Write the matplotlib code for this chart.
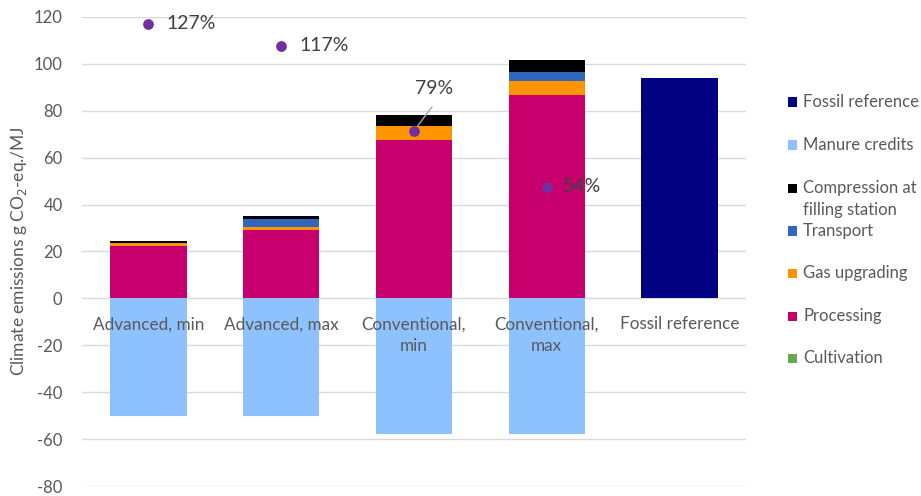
import matplotlib
matplotlib.use("Agg")
import matplotlib.pyplot as plt
from matplotlib.patches import Rectangle
import numpy as np

plt.rcParams['font.family'] = ['Lato', 'DejaVu Sans']
plt.rcParams['axes.unicode_minus'] = False

# Data (g CO2-eq./MJ)
categories = ["Advanced, min", "Advanced, max", "Conventional,\nmin", "Conventional,\nmax", "Fossil reference"]
cultivation = [0.0, 0.3, 0.0, 0.0, 0.0]
processing = [22.3, 28.9, 67.6, 86.6, 0.0]
gas_upgrading = [1.4, 1.4, 5.7, 6.0, 0.0]
transport = [0.0, 3.4, 0.0, 4.0, 0.0]
compression = [0.9, 1.0, 5.0, 5.1, 0.0]
manure_credits = [-50.3, -50.3, -57.7, -57.7, 0.0]
fossil_reference = [0.0, 0.0, 0.0, 0.0, 94.0]

# Reduction relative to the fossil reference (secondary axis)
reduction = [1.27, 1.17, 0.79, 0.54]
reduction_labels = ["127%", "117%", "79%", "54%"]

series_names = ["Fossil reference", "Manure credits", "Compression at\nfilling station",
                "Transport", "Gas upgrading", "Processing", "Cultivation"]
colors = {
    "Cultivation": "#6AA84F",
    "Processing": "#C8006E",
    "Gas upgrading": "#FF9300",
    "Transport": "#2E67BD",
    "Compression at\nfilling station": "#000000",
    "Manure credits": "#8EC2FF",
    "Fossil reference": "#000080",
}

fig = plt.figure(figsize=(9.21, 4.96), dpi=100)
ax = fig.add_axes([0.089, 0.020, 0.721, 0.946])

x = np.arange(len(categories))
width = 0.575

stack = [("Cultivation", cultivation), ("Processing", processing),
         ("Gas upgrading", gas_upgrading), ("Transport", transport),
         ("Compression at\nfilling station", compression)]
bottom = np.zeros(len(categories))
for name, vals in stack:
    vals = np.array(vals)
    ax.bar(x, vals, width, bottom=bottom, color=colors[name], zorder=3, linewidth=0)
    bottom += vals
ax.bar(x, manure_credits, width, color=colors["Manure credits"], zorder=3, linewidth=0)
ax.bar(x, fossil_reference, width, color=colors["Fossil reference"], zorder=3, linewidth=0)

ax.set_xlim(-0.5, len(categories) - 0.5)
ax.set_ylim(-80, 120)
ax.set_yticks(np.arange(-80, 121, 20))
ax.yaxis.grid(True, color="#D9D9D9", linewidth=1.0, zorder=0)
ax.set_axisbelow(True)
for s in ax.spines.values():
    s.set_visible(False)
ax.tick_params(axis="y", length=0, pad=14, labelsize=12, labelcolor="#595959")
ax.set_xticks([])
ax.set_ylabel("Climate emissions g CO$_2$-eq./MJ", fontsize=12.5, color="#595959", labelpad=3)

# Category labels sit just under the zero line
for xi, lab in zip(x, categories):
    ax.annotate(lab, (xi, 0), xytext=(0, -18), textcoords="offset pixels",
                ha="center", va="top", fontsize=12.3, color="#595959",
                linespacing=1.45, zorder=5)

# Reduction points on a hidden secondary axis
ax2 = ax.twinx()
ax2.set_ylim(-0.8, 1.3)
ax2.axis("off")
offsets = [(18, 0), (18, 0), (20, 42), (16, 0)]
for xi, r, lab, off in zip(x[:4], reduction, reduction_labels, offsets):
    if off[1] > 0:
        # leader line from the point towards its label
        ax2.annotate("", (xi, r), xytext=(18, 24), textcoords="offset pixels",
                     arrowprops=dict(arrowstyle="-", color="#A6A6A6", lw=1,
                                     shrinkA=0, shrinkB=0), zorder=5)
        ax2.annotate(lab, (xi, r), xytext=off, textcoords="offset pixels",
                     ha="center", va="center", fontsize=14, color="#404040")
    else:
        ax2.annotate(lab, (xi, r), xytext=off, textcoords="offset pixels",
                     ha="left", va="center", fontsize=14, color="#404040")
ax2.scatter(x[:4], reduction, s=60, color="#7030A0", zorder=6, linewidths=0)

# Legend
leg_y = [102, 145, 188, 231, 273, 316, 358]
W, H = 921, 496
for name, yp in zip(series_names, leg_y):
    fig.add_artist(Rectangle((788 / W, 1 - (yp + 4.5) / H), 9 / W, 9 / H,
                             transform=fig.transFigure, color=colors[name], lw=0))
    fig.text(803 / W, 1 - yp / H, name.split("\n")[0], fontsize=12, color="#595959",
             ha="left", va="center")
    if "\n" in name:
        fig.text(803 / W, 1 - (yp + 22) / H, name.split("\n")[1], fontsize=12,
                 color="#595959", ha="left", va="center")

fig.savefig("out.png", dpi=100)
